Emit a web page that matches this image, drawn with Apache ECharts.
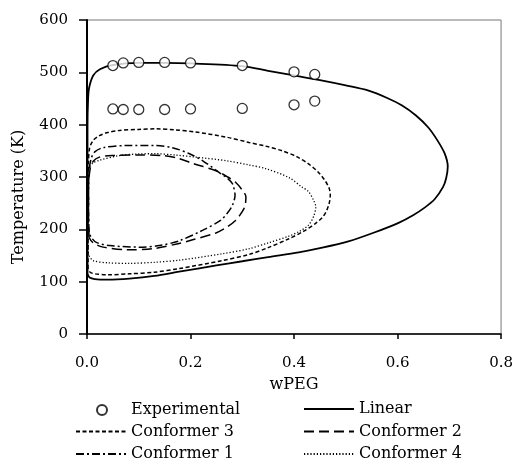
<!DOCTYPE html>
<html>
<head>
<meta charset="utf-8">
<script src="https://cdn.jsdelivr.net/npm/echarts@6/dist/echarts.min.js"></script>
<style>
  html, body { margin: 0; padding: 0; background: #fff; }
  #chart { width: 516px; height: 461px; }
</style>
</head>
<body>
<div id="chart"></div>
<script>
// experimental cloud points (upper and lower sets)
const expX = [0.05, 0.07, 0.10, 0.15, 0.20, 0.30, 0.40, 0.44];
const expHigh = [513, 518, 519, 519, 518, 513, 501, 496];
const expLow = [430, 429, 429, 429, 430, 431, 438, 445];

// model curves, [wPEG, T] traced round the loop
const linear = [[0.001,115],[0.001,250],[0.001,400],[0.002,445],[0.004,470],[0.012,494],[0.025,506],[0.05,514],[0.1,518],[0.15,518],[0.2,517],[0.3,512],[0.35,503],[0.4,494],[0.45,485],[0.5,475],[0.544,465],[0.58,451],[0.608,437],[0.635,418],[0.659,395],[0.677,370],[0.691,345],[0.697,320],[0.694,298],[0.688,281],[0.672,258],[0.653,242],[0.63,227],[0.601,212],[0.555,194],[0.505,177],[0.45,164],[0.409,156],[0.35,147],[0.3,139],[0.25,131],[0.178,119],[0.13,111],[0.082,106],[0.04,104],[0.015,105],[0.005,108],[0.001,115]];
const conf3 = [[0.002,125],[0.002,200],[0.002,280],[0.003,330],[0.005,355],[0.012,370],[0.024,379],[0.04,385],[0.063,389],[0.1,391],[0.133,392],[0.17,390],[0.21,386],[0.27,376],[0.313,366],[0.345,359],[0.377,350],[0.405,339],[0.428,325],[0.446,310],[0.46,293],[0.468,278],[0.47,265],[0.468,250],[0.463,236],[0.455,223],[0.441,211],[0.418,196],[0.39,182],[0.35,165],[0.313,152],[0.26,140],[0.178,125],[0.13,118],[0.082,115],[0.04,113],[0.015,115],[0.006,118],[0.002,125]];
const conf2 = [[0.004,185],[0.003,230],[0.003,280],[0.006,315],[0.012,330],[0.024,338],[0.05,341],[0.1,342],[0.146,341],[0.175,336],[0.204,326],[0.249,312],[0.272,300],[0.287,290],[0.3,275],[0.307,262],[0.306,248],[0.303,239],[0.296,228],[0.287,217],[0.27,204],[0.249,193],[0.204,180],[0.178,173],[0.127,163],[0.076,161],[0.031,166],[0.012,174],[0.004,185]];
const conf1 = [[0.004,195],[0.003,230],[0.003,270],[0.004,310],[0.008,335],[0.015,348],[0.031,356],[0.076,360],[0.133,360],[0.165,356],[0.197,345],[0.225,330],[0.255,309],[0.272,297],[0.281,287],[0.286,265],[0.281,246],[0.272,232],[0.258,217],[0.223,198],[0.178,178],[0.14,169],[0.101,166],[0.044,169],[0.018,175],[0.008,185],[0.004,195]];
const conf4 = [[0.002,155],[0.002,220],[0.003,290],[0.005,319],[0.012,327],[0.024,332],[0.063,341],[0.1,344],[0.133,344.5],[0.17,342],[0.21,338],[0.27,331],[0.313,323],[0.345,316],[0.39,299],[0.415,281],[0.428,272],[0.438,255],[0.442,243],[0.438,225],[0.428,208],[0.41,196],[0.39,187],[0.35,174],[0.313,163],[0.26,153],[0.178,141],[0.13,137],[0.082,135],[0.04,136],[0.012,140],[0.005,148],[0.002,155]];

const xTicks = [0, 0.8, 0.2];   // min, max, step
const yTicks = [0, 600, 100];

// legend order: row by row, left then right column
const legendNames = ['Experimental', 'Linear', 'Conformer 3', 'Conformer 2', 'Conformer 1', 'Conformer 4'];

const font = "DejaVu Serif";
const expPoints = expX.map((x, i) => [x, expHigh[i]]).concat(expX.map((x, i) => [x, expLow[i]]));

function curve(name, data, type, width) {
    return {
        name: name,
        type: 'line',
        data: data,
        symbol: 'none',
        smooth: 0.3,
        color: '#000',
        lineStyle: {color: '#000', width: width, type: type},
        z: 3
    };
}

const legends = legendNames.map((name, i) => {
    const isExp = name === 'Experimental';
    return {
        left: (i % 2 ? 303 : 75) + (isExp ? 21 : 0),
        top: 401 + Math.floor(i / 2) * 22.5 + (isExp ? 1 : 0),
        padding: 0,
        itemWidth: isExp ? 10 : 50,
        itemHeight: isExp ? 10 : 12,
        itemGap: 0,
        textStyle: {
            fontFamily: font, fontSize: 16, color: '#000',
            padding: isExp ? [0, 0, 0, 19] : 0
        },
        itemStyle: isExp ? {} : {opacity: 0},
        data: [name]
    };
});

const option = {
    animation: false,
    textStyle: {fontFamily: font, color: '#000'},
    grid: {
        left: 87, right: 13, top: 20, bottom: 127,
        show: true, borderColor: '#777', borderWidth: 1
    },
    xAxis: {
        type: 'value',
        min: xTicks[0], max: xTicks[1], interval: xTicks[2],
        name: 'wPEG', nameLocation: 'middle', nameGap: 43,
        nameTextStyle: {fontFamily: font, fontSize: 16, color: '#000'},
        axisLine: {show: true, onZero: false, lineStyle: {color: '#000', width: 1.5}},
        axisTick: {show: true, length: 5, lineStyle: {color: '#000', width: 1.5}},
        splitLine: {show: false},
        axisLabel: {
            margin: 22, fontFamily: font, fontSize: 15, color: '#000',
            formatter: v => v.toFixed(1)
        }
    },
    yAxis: {
        type: 'value',
        min: yTicks[0], max: yTicks[1], interval: yTicks[2],
        name: 'Temperature (K)', nameLocation: 'middle', nameGap: 60,
        nameTextStyle: {fontFamily: font, fontSize: 16, color: '#000', padding: [0, 40, 0, 0]},
        axisLine: {show: true, lineStyle: {color: '#000', width: 2}},
        axisTick: {show: true, length: 8, lineStyle: {color: '#000', width: 1.5}},
        splitLine: {show: false},
        axisLabel: {margin: 19, fontFamily: font, fontSize: 15, color: '#000'}
    },
    legend: legends,
    series: [
        {
            name: 'Experimental',
            type: 'scatter',
            data: expPoints,
            symbol: 'circle',
            symbolSize: 10,
            itemStyle: {color: '#fff', borderColor: '#000', borderWidth: 1.3},
            z: 5
        },
        curve('Linear', linear, 'solid', 1.8),
        curve('Conformer 3', conf3, [4, 2.5], 1.5),
        curve('Conformer 2', conf2, [10, 5], 1.5),
        curve('Conformer 1', conf1, [8, 3, 2, 3], 1.5),
        curve('Conformer 4', conf4, [1.2, 2], 1.3)
    ]
};

const myChart = echarts.init(document.getElementById('chart'));
myChart.setOption(option);
</script>
</body>
</html>
